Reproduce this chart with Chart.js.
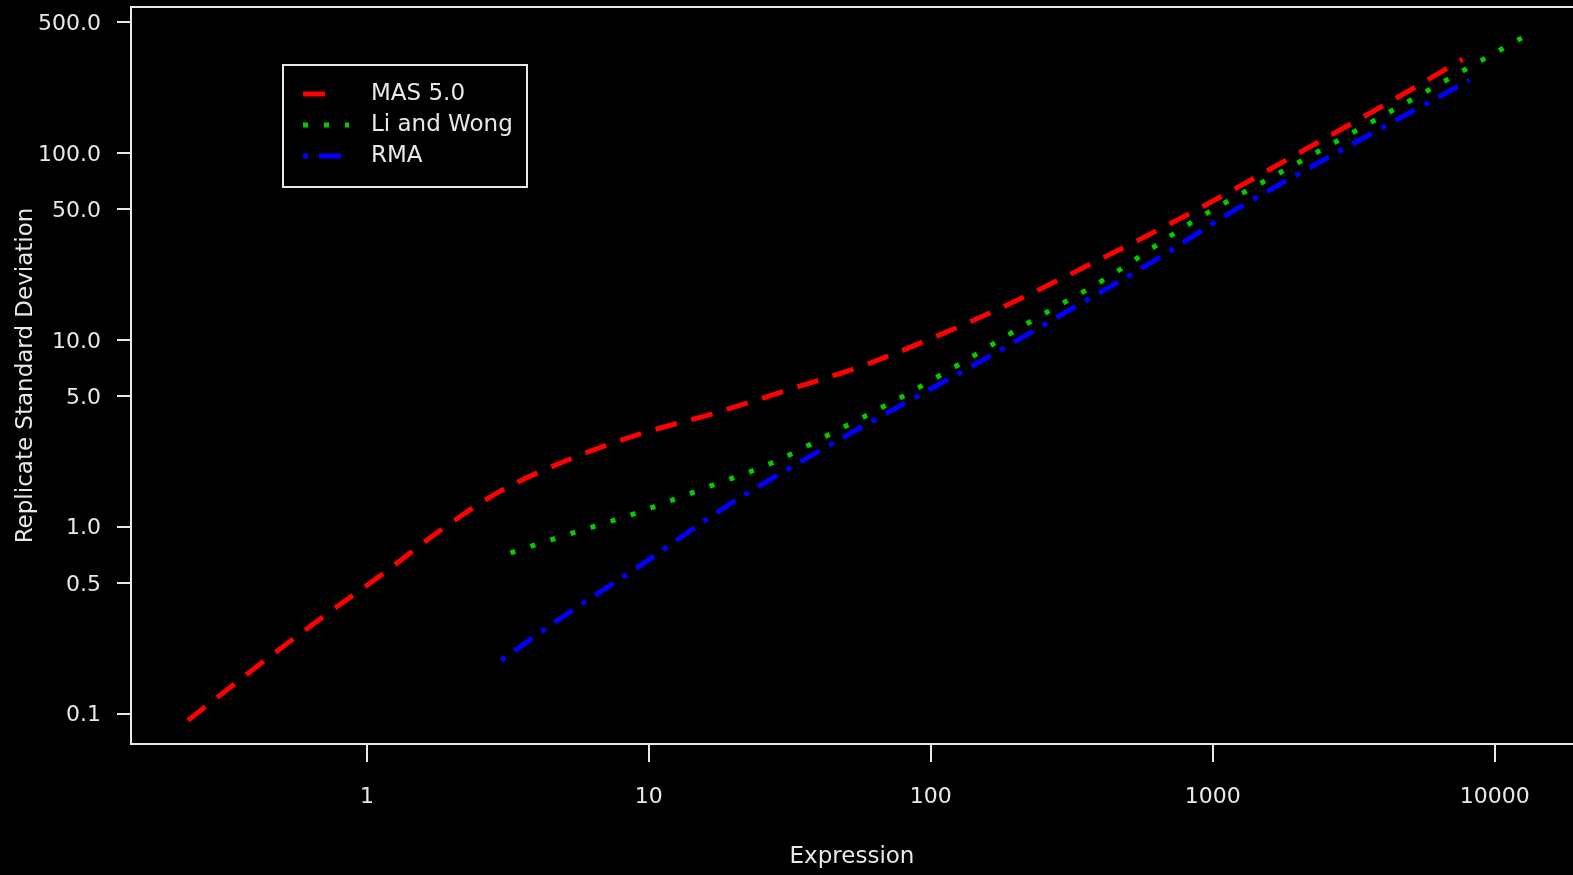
<!DOCTYPE html>
<html>
<head>
<meta charset="utf-8">
<title>Replicate Standard Deviation vs Expression</title>
<script src="https://cdn.jsdelivr.net/npm/chart.js@4.4.1/dist/chart.umd.min.js"></script>
<style>
    html, body { margin: 0; padding: 0; background: #000; }
    #wrap { width: 1573px; height: 875px; }
</style>
</head>
<body>
<div id="wrap"><canvas id="sdChart"></canvas></div>
<script>
// values (log-log)
const masX = [0.232, 0.441, 0.721, 1.14, 1.83, 2.95, 5.11, 9.21, 17.0, 31.7, 58.2, 102.5, 177, 409, 892, 1974, 4514, 7690];
const masY = [0.092, 0.196, 0.341, 0.56, 0.96, 1.54, 2.26, 3.12, 4.04, 5.44, 7.32, 10.3, 14.8, 27.5, 50.3, 98.0, 198, 317];

const liwX = [3.23, 5.41, 8.70, 15.6, 27.6, 47.4, 80.8, 135.4, 221, 420, 871, 1896, 4160, 7640, 12590];
const liwY = [0.725, 0.929, 1.16, 1.60, 2.21, 3.32, 5.05, 7.88, 12.3, 21.4, 43.9, 84.5, 163, 273, 416];

const rmaX = [3.00, 4.94, 9.52, 18.3, 36.2, 73.8, 150.6, 297, 602, 1188, 2525, 5322, 8150];
const rmaY = [0.193, 0.329, 0.633, 1.25, 2.32, 4.25, 7.69, 13.9, 25.8, 49.1, 93.3, 173, 245];

const seriesNames = ['MAS 5.0', 'Li and Wong', 'RMA'];
const xTicks = [1, 10, 100, 1000, 10000];
const yTicks = [0.1, 0.5, 1, 5, 10, 50, 100, 500];

const FG = '#e8e8e8';
const FAMILY = '"DejaVu Sans", sans-serif';
const TICK_FONT = { family: FAMILY, size: 22 };
const TITLE_FONT = { family: FAMILY, size: 23 };
const styles = [
    { color: '#ff0000', dash: [22, 15] },
    { color: '#00cd00', dash: [5, 16] },
    { color: '#0000ff', dash: [5, 11, 22, 11] }
];

function toPoints(xs, ys) {
    return xs.map((x, i) => ({ x: x, y: ys[i] }));
}

function makeDataset(i, xs, ys) {
    return {
        label: seriesNames[i],
        data: toPoints(xs, ys),
        showLine: true,
        borderColor: styles[i].color,
        borderWidth: 5,
        borderDash: styles[i].dash,
        borderCapStyle: 'butt',
        pointRadius: 0,
        cubicInterpolationMode: 'monotone',
        fill: false
    };
}

// open box (left, bottom, top) plus the legend in the top left
const framePlugin = {
    id: 'frame',
    afterDraw(chart) {
        const ctx = chart.ctx;
        const a = chart.chartArea;
        ctx.save();
        ctx.strokeStyle = FG;
        ctx.lineWidth = 2;
        ctx.beginPath();
        ctx.moveTo(chart.width + 5, a.top);
        ctx.lineTo(a.left, a.top);
        ctx.lineTo(a.left, a.bottom);
        ctx.lineTo(chart.width + 5, a.bottom);
        ctx.stroke();

        // legend
        ctx.strokeRect(283, 65, 244, 122);
        ctx.font = TITLE_FONT.size + 'px ' + FAMILY;
        ctx.fillStyle = FG;
        ctx.textBaseline = 'middle';
        const rows = [94, 125, 156];
        seriesNames.forEach((name, i) => {
            ctx.save();
            ctx.strokeStyle = styles[i].color;
            ctx.lineWidth = 5;
            ctx.lineCap = 'butt';
            ctx.setLineDash(styles[i].dash);
            ctx.beginPath();
            ctx.moveTo(303, rows[i]);
            ctx.lineTo(i === 0 ? 329 : 349, rows[i]);
            ctx.stroke();
            ctx.restore();
            ctx.fillText(name, 371, rows[i]);
        });
        ctx.restore();
    }
};

Chart.defaults.font.family = FAMILY;
Chart.defaults.font.size = 22;
Chart.defaults.color = FG;

const ctx = document.getElementById('sdChart').getContext('2d');
const sdChart = new Chart(ctx, {
    type: 'scatter',
    data: {
        datasets: [
            makeDataset(0, masX, masY),
            makeDataset(1, liwX, liwY),
            makeDataset(2, rmaX, rmaY)
        ]
    },
    options: {
        responsive: true,
        maintainAspectRatio: false,
        animation: false,
        devicePixelRatio: 1,
        layout: { padding: { top: 7, right: 0, left: 0, bottom: 0 } },
        plugins: {
            legend: { display: false },
            tooltip: { enabled: false }
        },
        scales: {
            x: {
                type: 'logarithmic',
                position: 'bottom',
                min: 0.1457,
                max: 18943,
                afterBuildTicks: scale => {
                    scale.ticks = xTicks.map(v => ({ value: v }));
                },
                afterFit: scale => {
                    scale.height = 131;
                    scale.paddingLeft = 0;
                    scale.paddingRight = 0;
                },
                ticks: {
                    color: FG,
                    font: TICK_FONT,
                    padding: 22,
                    maxRotation: 0,
                    autoSkip: false,
                    callback: v => String(v)
                },
                grid: {
                    drawOnChartArea: false,
                    drawTicks: true,
                    tickLength: 18,
                    color: FG,
                    lineWidth: 2
                },
                border: { display: false },
                title: {
                    display: true,
                    text: 'Expression',
                    color: FG,
                    font: TITLE_FONT,
                    padding: { top: 0, bottom: 4 }
                }
            },
            y: {
                type: 'logarithmic',
                position: 'left',
                min: 0.06877,
                max: 603.6,
                afterBuildTicks: scale => {
                    scale.ticks = yTicks.map(v => ({ value: v }));
                },
                afterFit: scale => {
                    scale.width = 131;
                    scale.paddingTop = 0;
                    scale.paddingBottom = 0;
                },
                ticks: {
                    color: FG,
                    font: TICK_FONT,
                    padding: 16,
                    labelOffset: 2,
                    autoSkip: false,
                    callback: v => Number(v).toFixed(1)
                },
                grid: {
                    drawOnChartArea: false,
                    drawTicks: true,
                    tickLength: 14,
                    color: FG,
                    lineWidth: 2
                },
                border: { display: false },
                title: {
                    display: true,
                    text: 'Replicate Standard Deviation',
                    color: FG,
                    font: TITLE_FONT,
                    padding: { top: 12, bottom: 0 }
                }
            }
        }
    },
    plugins: [framePlugin]
});
</script>
</body>
</html>
